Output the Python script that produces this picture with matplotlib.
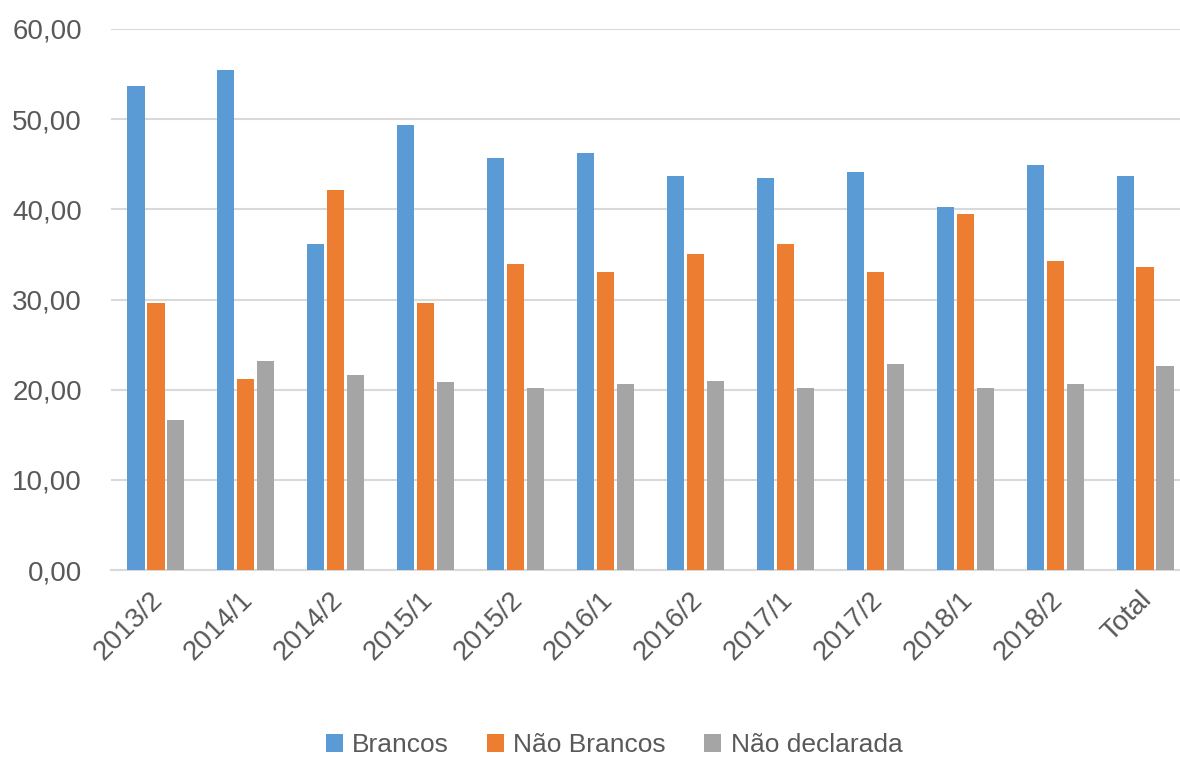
import numpy as np
import matplotlib
matplotlib.use("Agg")
import matplotlib.pyplot as plt
import matplotlib.transforms as mtransforms
from matplotlib.ticker import FuncFormatter

# Data
periodos = ['2013/2', '2014/1', '2014/2', '2015/1', '2015/2', '2016/1',
            '2016/2', '2017/1', '2017/2', '2018/1', '2018/2', 'Total']
brancos = [53.7, 55.5, 36.1, 49.3, 45.7, 46.3, 43.7, 43.5, 44.1, 40.3, 44.9, 43.7]
nao_brancos = [29.6, 21.2, 42.1, 29.6, 33.9, 33.1, 35.1, 36.1, 33.1, 39.5, 34.3, 33.6]
nao_declarada = [16.6, 23.2, 21.6, 20.8, 20.2, 20.6, 21.0, 20.2, 22.8, 20.2, 20.6, 22.6]

series = ['Brancos', 'Não Brancos', 'Não declarada']
colors = ['#5B9BD5', '#ED7D31', '#A5A5A5']

plt.rcParams['font.family'] = ['Liberation Sans', 'DejaVu Sans']
text_color = '#595959'

fig = plt.figure(figsize=(11.8, 7.61), dpi=100)
ax = fig.add_axes([111 / 1180, 1 - 570 / 761, 1079 / 1180, 541 / 761])

x = np.arange(len(periodos))
width = 0.19
step = 0.222
for i, (vals, name, c) in enumerate(zip([brancos, nao_brancos, nao_declarada], series, colors)):
    ax.bar(x + (i - 1) * step, vals, width, color=c, label=name, zorder=3)

ax.set_xlim(-0.5, len(periodos) - 0.5)
ax.set_ylim(0, 60)
ax.set_yticks(np.arange(0, 61, 10))
ax.yaxis.set_major_formatter(FuncFormatter(lambda v, p: f'{v:.2f}'.replace('.', ',')))
ax.grid(axis='y', color='#D9D9D9', linewidth=1.5, zorder=0)
for s in ['top', 'right', 'left']:
    ax.spines[s].set_visible(False)
ax.spines['bottom'].set_color('#D9D9D9')
ax.spines['bottom'].set_linewidth(1.5)
ax.tick_params(axis='both', length=0, labelsize=20, colors=text_color, pad=10)
ax.tick_params(axis='y', pad=21)

ax.set_xticks(x)
ax.set_xticklabels(periodos, rotation=45, ha='right', rotation_mode='anchor')
shift = mtransforms.ScaledTranslation(-6 / 100, -3 / 100, fig.dpi_scale_trans)
for lbl in ax.get_xticklabels():
    lbl.set_transform(lbl.get_transform() + shift)

leg = fig.legend(loc='center', bbox_to_anchor=(614 / 1180, 1 - 745 / 761), ncol=3,
                 frameon=False, fontsize=19, handlelength=0.65, handleheight=0.65,
                 handletextpad=0.35, columnspacing=1.45)
for t in leg.get_texts():
    t.set_color(text_color)

fig.savefig('out.png', dpi=100)
